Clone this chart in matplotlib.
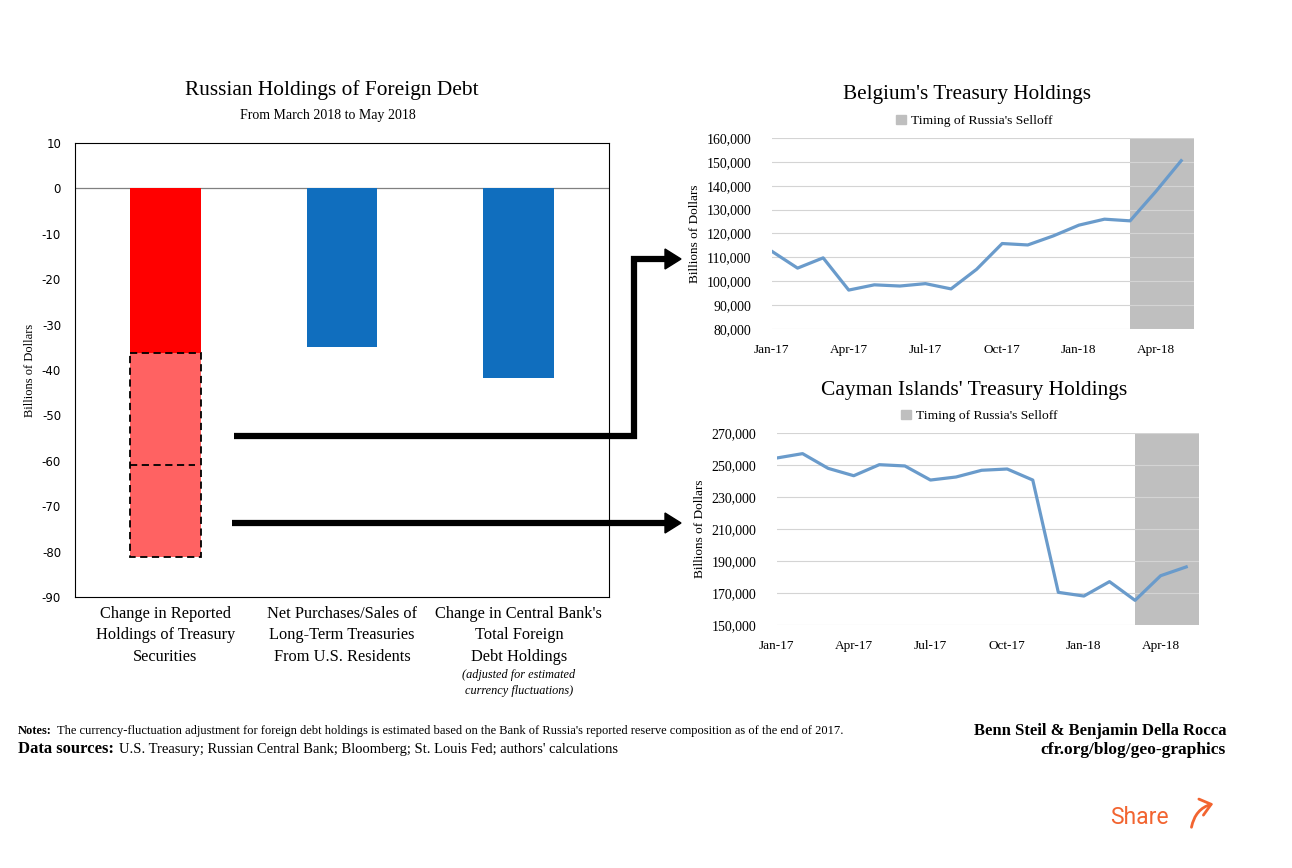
import matplotlib
matplotlib.use("Agg")
import matplotlib.pyplot as plt
from matplotlib.patches import Patch, FancyArrowPatch
from matplotlib.ticker import FuncFormatter
import matplotlib.transforms as mtransforms

plt.rcParams["axes.unicode_minus"] = False

# left panel: change in russian holdings, billions of dollars
categories = ["Change in Reported\nHoldings of Treasury\nSecurities",
			  "Net Purchases/Sales of\nLong-Term Treasuries\nFrom U.S. Residents",
			  "Change in Central Bank's\nTotal Foreign\nDebt Holdings"]
category_notes = ["", "", "(adjusted for estimated\ncurrency fluctuations)"]
change_values = [-36.2, -34.9, -41.7]
implied_total = -81.1 # dashed box under the red bar
implied_split = -61.0 # dashed divider inside the box

# right panels: monthly treasury holdings, millions of dollars
months = ["Jan-17", "Feb-17", "Mar-17", "Apr-17", "May-17", "Jun-17", "Jul-17",
		  "Aug-17", "Sep-17", "Oct-17", "Nov-17", "Dec-17", "Jan-18", "Feb-18",
		  "Mar-18", "Apr-18", "May-18"]
belgium = [112500, 105500, 109800, 96300, 98500, 98000, 99000, 96800, 105000,
		   115800, 115200, 119000, 123500, 126000, 125300, 137500, 150500]
cayman = [254400, 257100, 247900, 243300, 250200, 249400, 240600, 242500, 246700,
		  247500, 240600, 170400, 168100, 177100, 165400, 180800, 186300]
selloff_start = "Mar-18"

W, H = 1292, 868
SERIF = "Liberation Serif"

def box(l, t, r, b):
	""" pixel box to figure fraction """
	return [l / W, 1 - b / H, (r - l) / W, (b - t) / H]

def draw_bars(ax):
	""" bar chart of holding changes """
	x = list(range(len(categories)))
	colors = ["#ff0000", "#106ebe", "#106ebe"]
	ax.bar(x, change_values, width=0.4, color=colors, zorder=2)

	# dashed box for the implied selloff
	ax.bar(0, implied_total - change_values[0], bottom=change_values[0], width=0.4,
		   color="#ff6262", edgecolor="black", linestyle=(0, (4, 2.5)), linewidth=1.3, zorder=2)
	ax.hlines(implied_split, -0.2, 0.17, colors="black", linestyles=(0, (4, 2.5)),
			  linewidth=1.3, zorder=3)

	ax.axhline(0, color="#808080", linewidth=0.9, zorder=1)
	ax.set_xlim(-0.51, 2.51)
	ax.set_ylim(-90, 10)
	ax.set_yticks(range(-90, 11, 10))
	ax.tick_params(axis="y", length=0, pad=10, labelsize=8.5)
	ax.set_xticks([])
	for s in ax.spines.values():
		s.set_linewidth(0.8)
	ax.set_ylabel("Billions of Dollars", family=SERIF, fontsize=9, labelpad=4)

	trans = mtransforms.blended_transform_factory(ax.transData, ax.transAxes)
	for i, label in enumerate(categories):
		ax.text(i, -0.02, label, transform=trans, ha="center", va="top",
				family=SERIF, fontsize=11.8, linespacing=1.45)
		if category_notes[i]:
			ax.text(i, -0.158, category_notes[i], transform=trans, ha="center", va="top",
					family=SERIF, fontsize=8.8, style="italic", linespacing=1.45)

def draw_line(ax, values, yticks):
	""" excel style line chart with selloff shading """
	x = list(range(len(months)))
	ax.axvspan(months.index(selloff_start), len(months) - 0.5, color="#bfbfbf", zorder=1, lw=0)
	ax.plot(x, values, color="#6a9bcb", linewidth=2.3, zorder=3)
	ax.set_xlim(0, len(months) - 0.5)
	ax.set_ylim(yticks[0], yticks[-1])
	ax.set_yticks(yticks)
	ax.yaxis.set_major_formatter(FuncFormatter(lambda v, p: f"{int(v):,}"))
	ax.grid(axis="y", color="#d4d4d4", linewidth=0.8, zorder=2)
	ax.set_axisbelow(False)
	ax.set_xticks(x[::3])
	ax.set_xticklabels(months[::3])
	ax.tick_params(axis="x", length=0, labelsize=9.5, pad=11)
	ax.tick_params(axis="y", length=0, labelsize=10, pad=15)
	for lab in ax.get_xticklabels() + ax.get_yticklabels():
		lab.set_family(SERIF)
	for s in ax.spines.values():
		s.set_visible(False)
	ax.set_ylabel("Billions of Dollars", family=SERIF, fontsize=9.5, labelpad=4)
	ax.legend(handles=[Patch(color="#bfbfbf", label="Timing of Russia's Selloff")],
			  loc="lower center", bbox_to_anchor=(0.48, 1.02), frameon=False,
			  handlelength=0.7, handleheight=0.7, handletextpad=0.4,
			  prop={"family": SERIF, "size": 9.7}, borderaxespad=0.1)

fig = plt.figure(figsize=(W / 100, H / 100), dpi=100)

ax_bar = fig.add_axes(box(75, 143, 609, 597))
draw_bars(ax_bar)
fig.text(332 / W, 1 - 90 / H, "Russian Holdings of Foreign Debt", ha="center", va="center",
		 family=SERIF, fontsize=15.4)
fig.text(328 / W, 1 - 115 / H, "From March 2018 to May 2018", ha="center", va="center",
		 family=SERIF, fontsize=10)

ax_bel = fig.add_axes(box(772, 138, 1194, 329))
draw_line(ax_bel, belgium, list(range(80000, 160001, 10000)))
fig.text(967 / W, 1 - 94 / H, "Belgium's Treasury Holdings", ha="center", va="center",
		 family=SERIF, fontsize=15.3)

ax_cay = fig.add_axes(box(777, 433, 1199, 625))
draw_line(ax_cay, cayman, list(range(150000, 270001, 20000)))
fig.text(974 / W, 1 - 390 / H, "Cayman Islands' Treasury Holdings", ha="center", va="center",
		 family=SERIF, fontsize=15.5)

# overlay for the connector arrows, in pixel coordinates
ov = fig.add_axes([0, 0, 1, 1], facecolor="none")
ov.set_xlim(0, W)
ov.set_ylim(H, 0)
ov.axis("off")
ov.plot([234, 634, 634, 667], [436, 436, 259, 259], color="black", linewidth=4.5,
		solid_joinstyle="miter", solid_capstyle="butt")
ov.fill([665, 681, 665], [249, 259, 269], color="black")
ov.plot([232, 667], [523, 523], color="black", linewidth=4.5, solid_capstyle="butt")
ov.fill([665, 681, 665], [513, 523, 533], color="black")

# footer notes with bold lead words
renderer = fig.canvas.get_renderer()
def lead_text(x, y, bold, rest, bsize, rsize):
	t = fig.text(x / W, 1 - y / H, bold, family=SERIF, weight="bold", fontsize=bsize, va="center")
	ext = t.get_window_extent(renderer)
	fig.text(ext.x1 / W + 5 / W, 1 - y / H, rest, family=SERIF, fontsize=rsize, va="center")

lead_text(18, 731, "Notes:", "The currency-fluctuation adjustment for foreign debt holdings is estimated "
		  "based on the Bank of Russia's reported reserve composition as of the end of 2017.",
		  9, 9)
lead_text(18, 749, "Data sources:", "U.S. Treasury; Russian Central Bank; Bloomberg; St. Louis Fed; "
		  "authors' calculations", 12, 10.5)

fig.text(1226 / W, 1 - 731 / H, "Benn Steil & Benjamin Della Rocca", ha="right", va="center",
		 family=SERIF, weight="bold", fontsize=12)
fig.text(1226 / W, 1 - 750 / H, "cfr.org/blog/geo-graphics", ha="right", va="center",
		 family=SERIF, weight="bold", fontsize=12.5)

# share button
fig.text(1139 / W, 1 - 818 / H, "Share", ha="center", va="center", family="Roboto",
		 fontsize=16.5, color="#f26430")
ov.add_patch(FancyArrowPatch((1191, 830), (1216, 803), connectionstyle="arc3,rad=-0.35",
							 arrowstyle="->,head_length=5,head_width=4", color="#f26430",
							 linewidth=2, mutation_scale=1.5))

fig.savefig("out.png", dpi=100)
